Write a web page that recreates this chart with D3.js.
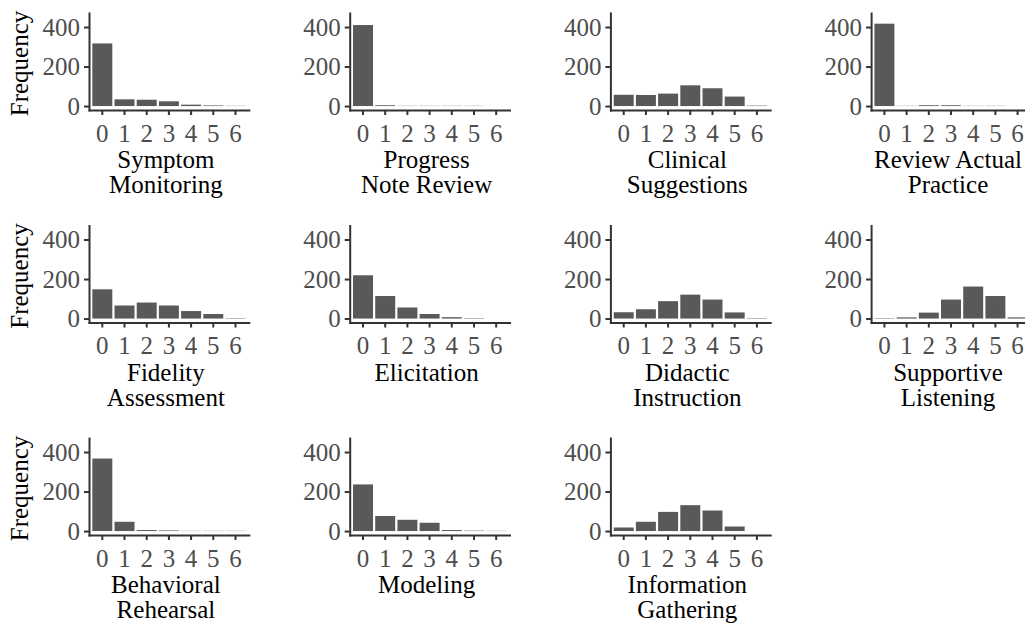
<!DOCTYPE html>
<html>
<head>
<meta charset="utf-8">
<script src="https://cdn.jsdelivr.net/npm/d3@7"></script>
<style>
body { margin: 0; background: #fff; }
</style>
</head>
<body>
<script>
// scores on the x axis, shared by every panel
var scores = [0, 1, 2, 3, 4, 5, 6];
var yTicks = [0, 200, 400];

var titles = [
  ["Symptom", "Monitoring"], ["Progress", "Note Review"], ["Clinical", "Suggestions"], ["Review Actual", "Practice"],
  ["Fidelity", "Assessment"], ["Elicitation"], ["Didactic", "Instruction"], ["Supportive", "Listening"],
  ["Behavioral", "Rehearsal"], ["Modeling"], ["Information", "Gathering"]
];

// frequencies, score 0..6
var symptomMonitoring    = [317, 34, 32, 24, 7, 3, 1];
var progressNoteReview   = [410, 4, 1, 1, 1, 1, 0];
var clinicalSuggestions  = [57, 56, 63, 105, 90, 48, 2];
var reviewActualPractice = [417, 1, 4, 4, 1, 1, 0];
var fidelityAssessment   = [148, 66, 81, 66, 38, 23, 2];
var elicitation          = [219, 114, 56, 23, 7, 2, 0];
var didacticInstruction  = [32, 47, 88, 121, 96, 31, 2];
var supportiveListening  = [2, 6, 30, 96, 162, 114, 6];
var behavioralRehearsal  = [367, 47, 5, 3, 1, 1, 1];
var modeling             = [236, 76, 57, 42, 5, 2, 1];
var informationGathering = [18, 47, 97, 131, 104, 23, 0];

var counts = [symptomMonitoring, progressNoteReview, clinicalSuggestions, reviewActualPractice,
  fidelityAssessment, elicitation, didacticInstruction, supportiveListening,
  behavioralRehearsal, modeling, informationGathering];

var width = 1025, height = 623;
var left = 89, colStep = 260.7, rowStep = 212.5, panelW = 159.8;
var fontSize = 25;
var serif = "'Liberation Serif', 'Times New Roman', Times, 'DejaVu Serif', serif";

var svg = d3.select("body").append("svg")
    .attr("width", width)
    .attr("height", height)
    .style("font-family", serif);

var x = d3.scaleBand()
    .domain(scores)
    .range([0, panelW])
    .paddingInner(0.1)
    .paddingOuter(0.15);

var y = d3.scaleLinear()
    .domain([-20, 471])
    .range([110, 13]);

counts.forEach(function(vals, i) {
  var col = i % 4, row = Math.floor(i / 4);
  var g = svg.append("g")
      .attr("transform", "translate(" + (left + col * colStep) + "," + (row * rowStep) + ")");

  g.selectAll("rect")
      .data(vals)
    .enter().append("rect")
      .attr("x", function(d, j) { return x(scores[j]); })
      .attr("width", x.bandwidth())
      .attr("y", function(d) { return y(d); })
      .attr("height", function(d) { return y(0) - y(d); })
      .attr("fill", "#595959");

  var ya = g.append("g")
      .call(d3.axisLeft(y).tickValues(yTicks).tickSize(5).tickSizeOuter(0).tickPadding(4));

  var xa = g.append("g")
      .attr("transform", "translate(0," + y.range()[0] + ")")
      .call(d3.axisBottom(x).tickSize(5).tickSizeOuter(0).tickPadding(9));

  [ya, xa].forEach(function(a) {
    a.attr("font-size", fontSize).attr("font-family", serif);
    a.select(".domain").attr("stroke", "#333").attr("stroke-width", 2).attr("stroke-linecap", "square");
    a.selectAll(".tick line").attr("stroke", "#333").attr("stroke-width", 2);
    a.selectAll(".tick text").attr("fill", "#4d4d4d").style("font-family", serif);
  });

  var t = g.append("text")
      .attr("text-anchor", "middle")
      .attr("font-size", fontSize)
      .style("font-family", serif)
      .attr("fill", "#000");
  titles[i].forEach(function(line, k) {
    t.append("tspan")
        .attr("x", panelW / 2 - 3)
        .attr("y", 168 + k * 25)
        .text(line);
  });

  if (col === 0) {
    svg.append("text")
        .attr("transform", "translate(28," + (63.5 + row * rowStep) + ") rotate(-90)")
        .attr("text-anchor", "middle")
        .attr("font-size", fontSize)
        .style("font-family", serif)
        .attr("fill", "#000")
        .text("Frequency");
  }
});
</script>
</body>
</html>
